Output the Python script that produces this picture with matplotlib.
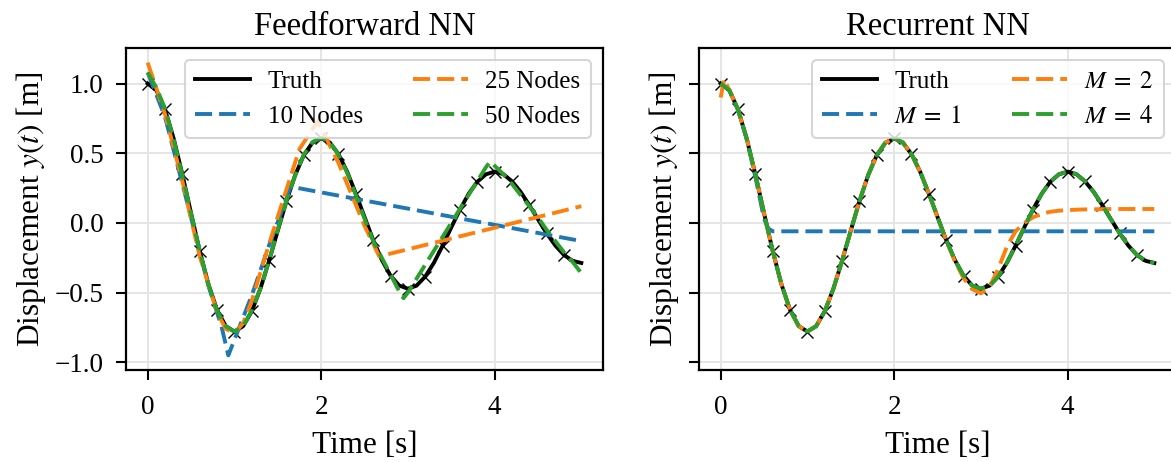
import numpy as np
import matplotlib
matplotlib.use("Agg")
import matplotlib.pyplot as plt

# sample grid (s)
t = np.linspace(0, 5, 51)

y_truth = [1.000, 0.952, 0.814, 0.605, 0.348, 0.070, -0.201, -0.439, -0.624, -0.740,
           -0.779, -0.741, -0.634, -0.471, -0.271, -0.055, 0.156, 0.342, 0.486, 0.576,
           0.607, 0.577, 0.494, 0.367, 0.211, 0.043, -0.122, -0.266, -0.378, -0.449,
           -0.472, -0.450, -0.385, -0.286, -0.164, -0.033, 0.095, 0.208, 0.295, 0.349,
           0.368, 0.350, 0.299, 0.223, 0.128, 0.026, -0.074, -0.162, -0.230, -0.272,
           -0.287]

# feedforward nets
ff10_t = [0, 0.2, 0.45, 0.7, 0.85, 0.93, 1.2, 1.4, 1.65, 5.0]
ff10_y = [1.08, 0.76, 0.16, -0.45, -0.74, -0.95, -0.52, -0.16, 0.26, -0.13]

ff25_t = [0, 0.2, 0.4, 0.6, 0.8, 0.9, 1.0, 1.1, 1.2, 1.4, 1.6, 1.75, 1.96, 2.2, 2.5, 2.67, 5.0]
ff25_y = [1.15, 0.78, 0.30, -0.24, -0.64, -0.76, -0.79, -0.72, -0.56, -0.15, 0.24, 0.53, 0.73,
          0.43, -0.02, -0.24, 0.12]

ff50_t = [0.0, 0.1, 0.2, 0.3, 0.4, 0.5, 0.6, 0.7, 0.8, 0.9,
          1.0, 1.1, 1.2, 1.3, 1.4, 1.5, 1.6, 1.7, 1.8, 1.9,
          2.0, 2.1, 2.2, 2.3, 2.4, 2.5, 2.6, 2.7, 2.8, 2.9, 2.95,
          3.0, 3.1, 3.2, 3.3, 3.4, 3.5, 3.6, 3.7, 3.8, 3.9, 3.95,
          4.0, 4.1, 4.2, 4.3, 4.4, 4.5, 4.6, 4.7, 4.8, 4.9, 5.0]
ff50_y = [1.08, 0.97, 0.82, 0.60, 0.34, 0.07, -0.20, -0.44, -0.63, -0.74,
          -0.78, -0.74, -0.63, -0.47, -0.27, -0.05, 0.16, 0.34, 0.49, 0.58,
          0.61, 0.58, 0.49, 0.36, 0.20, 0.03, -0.13, -0.25, -0.37, -0.49, -0.54,
          -0.50, -0.40, -0.30, -0.20, -0.10, 0.00, 0.10, 0.20, 0.30, 0.40, 0.44,
          0.41, 0.35, 0.28, 0.20, 0.12, 0.04, -0.05, -0.13, -0.21, -0.28, -0.36]

# recurrent nets
m1_t = [0, 0.1, 0.2, 0.3, 0.4, 0.5, 0.55, 0.6, 5.0]
m1_y = [1.0, 0.95, 0.81, 0.60, 0.33, 0.03, -0.04, -0.06, -0.06]

m2_t = [0.0, 0.04, 0.1, 0.2, 0.3, 0.4, 0.5, 0.6, 0.7, 0.8, 0.9,
        1.0, 1.1, 1.2, 1.3, 1.4, 1.5, 1.6, 1.7, 1.8, 1.9,
        2.0, 2.1, 2.2, 2.3, 2.4, 2.5, 2.6, 2.7, 2.8, 2.9,
        3.0, 3.1, 3.2, 3.3, 3.4, 3.5, 3.6, 3.7, 3.8, 3.9,
        4.0, 4.1, 4.2, 4.3, 4.4, 4.5, 4.6, 4.7, 4.8, 4.9, 5.0]
m2_y = [0.90, 1.03, 0.952, 0.814, 0.605, 0.348, 0.070, -0.201, -0.439, -0.624, -0.740,
        -0.779, -0.741, -0.634, -0.471, -0.271, -0.055, 0.156, 0.342, 0.486, 0.576,
        0.607, 0.577, 0.494, 0.367, 0.211, 0.043, -0.125, -0.275, -0.395, -0.475,
        -0.505, -0.46, -0.33, -0.17, -0.06, 0.0, 0.04, 0.065, 0.08, 0.088,
        0.092, 0.095, 0.097, 0.098, 0.099, 0.1, 0.1, 0.1, 0.1, 0.1, 0.1]

m4_y = list(y_truth)  # on top of the truth everywhere

plt.rcParams['font.family'] = 'serif'
plt.rcParams['font.serif'] = ['Liberation Serif', 'DejaVu Serif']
plt.rcParams['mathtext.fontset'] = 'stix'

blue, orange, green = '#1f77b4', '#ff7f0e', '#2ca02c'
dash = (4.4, 1.8)
lw = 2.8

fig = plt.figure(figsize=(11.71, 4.62), dpi=100)
ax1 = fig.add_axes([126 / 1171, 92 / 462, 477 / 1171, 322 / 462])
ax2 = fig.add_axes([699 / 1171, 92 / 462, 477 / 1171, 322 / 462], sharey=ax1)


def truth(ax):
    ax.plot(t, y_truth, color='black', lw=2.8, label='Truth')
    ax.plot(t, y_truth, ls='none', marker='x', color='black', markersize=8,
            markeredgewidth=1.0, markevery=slice(0, 50, 2))


truth(ax1)
ax1.plot(ff10_t, ff10_y, color=blue, lw=lw, dashes=dash, label='10 Nodes')
ax1.plot(ff25_t, ff25_y, color=orange, lw=lw, dashes=dash, label='25 Nodes')
ax1.plot(ff50_t, ff50_y, color=green, lw=lw, dashes=dash, label='50 Nodes')
ax1.set_title('Feedforward NN', fontsize=23.5, pad=9)

truth(ax2)
ax2.plot(m1_t, m1_y, color=blue, lw=lw, dashes=dash, label='$M\\;=\\;1$')
ax2.plot(m2_t, m2_y, color=orange, lw=lw, dashes=dash, label='$M\\;=\\;2$')
ax2.plot(t, m4_y, color=green, lw=lw, dashes=dash, label='$M\\;=\\;4$')
ax2.set_title('Recurrent NN', fontsize=23.5, pad=9)

for ax in (ax1, ax2):
    ax.set_xlim(-0.25, 5.25)
    ax.set_ylim(-1.055, 1.255)
    ax.set_xticks([0, 2, 4])
    ax.set_yticks([-1.0, -0.5, 0.0, 0.5, 1.0])
    ax.grid(True, color='#e5e5e5', lw=1.4)
    ax.set_axisbelow(True)
    ax.tick_params(labelsize=19.5, length=7, width=1.5, color='black')
    ax.tick_params(axis='x', pad=11)
    ax.tick_params(axis='y', pad=9)
    for s in ax.spines.values():
        s.set_linewidth(1.6)
    ax.set_xlabel('Time [s]', fontsize=22.5, labelpad=8)
    leg = ax.legend(loc='upper right', ncol=2, fontsize=18, handlelength=2.2,
                    handletextpad=0.7, columnspacing=2.0, labelspacing=0.5,
                    fancybox=True, framealpha=0.8, edgecolor='#cccccc')
    leg.get_frame().set_linewidth(1.5)

ax1.set_ylabel('Displacement $y(t)$ [m]', fontsize=22.5, labelpad=5)
ax2.set_ylabel('Displacement $y(t)$ [m]', fontsize=22.5, labelpad=6)
ax2.tick_params(labelleft=False)

fig.savefig('out.png', dpi=100)
